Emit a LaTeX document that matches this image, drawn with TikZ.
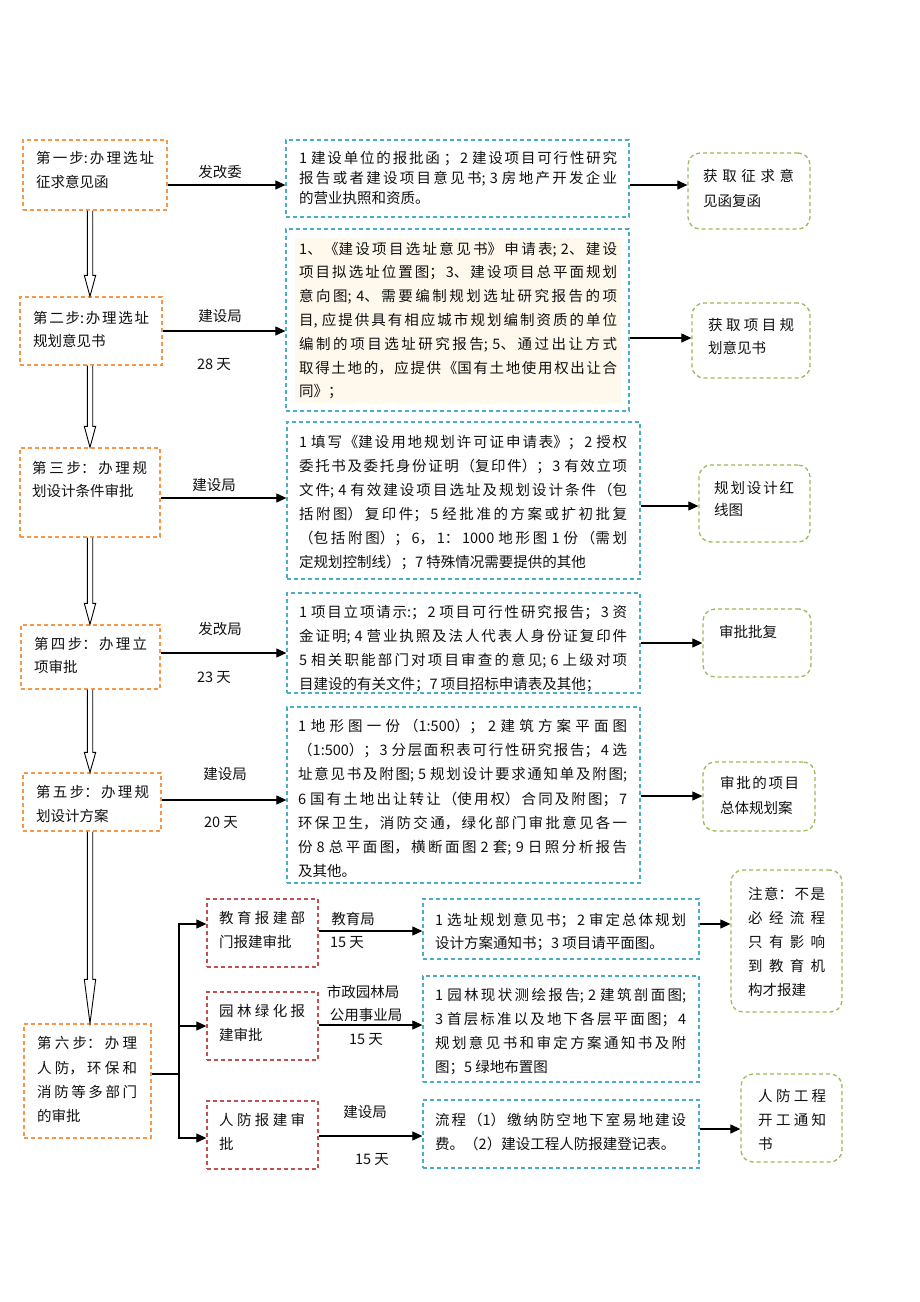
\documentclass[tikz,border=0pt]{standalone}
\usepackage{fontspec}
\setmainfont{Noto Sans CJK SC}
\usetikzlibrary{arrows.meta,calc}
\XeTeXlinebreaklocale "zh"
\XeTeXlinebreakskip=0pt plus 5pt
\setlength{\parindent}{0pt}
\definecolor{stepc}{HTML}{F79646}
\definecolor{docc}{HTML}{4BACC6}
\definecolor{deptc}{HTML}{C0504D}
\definecolor{resc}{HTML}{9BBB59}
\definecolor{peach}{RGB}{255,248,236}
\definecolor{ink}{HTML}{111111}
\newcommand\hollowarr[3]{\draw[harr] ($(#1)+(-2.7,0)$) -- ($(#2)+(-2.7,-#3)$) -- ($(#2)+(-5.7,-#3)$) -- (#2) -- ($(#2)+(5.7,-#3)$) -- ($(#2)+(2.7,-#3)$) -- ($(#1)+(2.7,0)$);}
\newcommand\sidearr[3]{\draw[arr] ([yshift=#3]#1.east) -- ([yshift=#3]#1.east -| #2.west);}
\begin{document}
\begin{tikzpicture}[x=1pt,y=-1pt,
  dashbox/.style={dash pattern=on 4pt off 3pt, line width=1.3pt, inner sep=0pt},
  stepbox/.style={dashbox, draw=stepc},
  docbox/.style={dashbox, draw=docc},
  deptbox/.style={dashbox, draw=deptc},
  resbox/.style={dashbox, draw=resc, rounded corners=12pt},
  txt/.style={anchor=north west, inner sep=0pt, align=justify, text=ink},
  lab/.style={inner sep=0pt, text=ink, font=\fontsize{14.5}{17}\selectfont},
  arr/.style={-{Triangle[length=10pt,width=9pt]}, line width=1.1pt},
  harr/.style={line width=0.9pt, fill=white},
  line/.style={line width=1.1pt}
]
\useasboundingbox[fill=white] (0,0) rectangle (920,1302);

% ---- step boxes
\node[stepbox, minimum width=144pt, minimum height=70pt] (S1) at (95,175) {};
\node[stepbox, minimum width=142pt, minimum height=68pt] (S2) at (91,331) {};
\node[stepbox, minimum width=140pt, minimum height=89pt] (S3) at (90,492.5) {};
\node[stepbox, minimum width=139pt, minimum height=64pt] (S4) at (90.5,657) {};
\node[stepbox, minimum width=138pt, minimum height=58pt] (S5) at (92,802) {};
\node[stepbox, minimum width=127pt, minimum height=114pt] (S6) at (87.5,1081) {};

% ---- document boxes
\node[docbox, minimum width=343pt, minimum height=77pt] (B1) at (457.5,178.5) {};
\node[docbox, minimum width=343pt, minimum height=182pt] (B2) at (457.5,320) {};
\node[docbox, minimum width=353pt, minimum height=157pt] (B3) at (463.5,500.5) {};
\node[docbox, minimum width=353pt, minimum height=100pt] (B4) at (463.5,643) {};
\node[docbox, minimum width=353pt, minimum height=176pt] (B5) at (463.5,795) {};
\node[docbox, minimum width=276pt, minimum height=60pt] (B6) at (561,929) {};
\node[docbox, minimum width=276pt, minimum height=106pt] (B7) at (561,1029) {};
\node[docbox, minimum width=276pt, minimum height=68pt] (B8) at (561,1134) {};

% ---- department boxes
\node[deptbox, minimum width=111pt, minimum height=68pt] (R1) at (262.5,933) {};
\node[deptbox, minimum width=111pt, minimum height=68pt] (R2) at (262.5,1026) {};
\node[deptbox, minimum width=111pt, minimum height=68pt] (R3) at (262.5,1135) {};

% ---- result boxes
\node[resbox, minimum width=122pt, minimum height=76pt] (G1) at (749,191) {};
\node[resbox, minimum width=118pt, minimum height=75pt] (G2) at (751,340.5) {};
\node[resbox, minimum width=111pt, minimum height=77pt] (G3) at (754.5,503.5) {};
\node[resbox, minimum width=108pt, minimum height=68pt] (G4) at (757,643) {};
\node[resbox, minimum width=112pt, minimum height=69pt] (G5) at (759,796.5) {};
\node[resbox, minimum width=111pt, minimum height=142pt] (G6) at (786.5,941) {};
\node[resbox, minimum width=101pt, minimum height=88pt] (G7) at (791.5,1118) {};

% ---- texts in step boxes
\node[txt, text width=118pt, font=\fontsize{14.5}{24}\selectfont] (tS1) at (36,151.5) {第一步:办理选址\linebreak 征求意见函};
\node[txt, text width=116pt, font=\fontsize{14.5}{23}\selectfont] (tS2) at (33,311.5) {第二步:办理选址\linebreak 规划意见书};
\node[txt, text width=115pt, font=\fontsize{14.5}{23}\selectfont] (tS3) at (32,461.5) {第三步：办理规\linebreak 划设计条件审批};
\node[txt, text width=113pt, font=\fontsize{14.5}{23}\selectfont] (tS4) at (34,637.5) {第四步：办理立\linebreak 项审批};
\node[txt, text width=113pt, font=\fontsize{14.5}{24}\selectfont] (tS5) at (36,785.5) {第五步：办理规\linebreak 划设计方案};
\node[txt, text width=100pt, font=\fontsize{14.5}{24.3}\selectfont] (tS6) at (37,1036.5) {第六步：办理\linebreak 人防，环保和\linebreak 消防等多部门\linebreak 的审批};

% ---- texts in document boxes
\node[txt, text width=318pt, font=\fontsize{14.5}{20}\selectfont] (tB1) at (299,151.5) {1 建设单位的报批函 ；2 建设项目可行性研究\linebreak 报告或者建设项目意见书; 3 房地产开发企业\linebreak 的营业执照和资质。};
\node[txt, text width=318pt, font=\fontsize{14.5}{23.8}\selectfont, fill=peach, inner sep=4pt] (tB2) at (295,237.5) {1、《建设项目选址意见书》申请表; 2、建设\linebreak 项目拟选址位置图；3、建设项目总平面规划\linebreak 意向图; 4、需要编制规划选址研究报告的项\linebreak 目, 应提供具有相应城市规划编制资质的单位\linebreak 编制的项目选址研究报告; 5、通过出让方式\linebreak 取得土地的，应提供《国有土地使用权出让合\linebreak 同》；};
\node[txt, text width=328pt, font=\fontsize{14.5}{24}\selectfont] (tB3) at (299,435.5) {1 填写《建设用地规划许可证申请表》；2 授权\linebreak 委托书及委托身份证明（复印件）；3 有效立项\linebreak 文件; 4 有效建设项目选址及规划设计条件（包\linebreak 括附图）复印件；5 经批准的方案或扩初批复\linebreak （包括附图）；6，1：1000 地形图 1 份（需划\linebreak 定规划控制线）；7 特殊情况需要提供的其他};
\node[txt, text width=328pt, font=\fontsize{14.5}{23.7}\selectfont] (tB4) at (299,605.5) {1 项目立项请示:；2 项目可行性研究报告；3 资\linebreak 金证明; 4 营业执照及法人代表人身份证复印件\linebreak 5 相关职能部门对项目审查的意见; 6 上级对项\linebreak 目建设的有关文件；7 项目招标申请表及其他；};
\node[txt, text width=329pt, font=\fontsize{14.5}{24.3}\selectfont] (tB5) at (298,718.5) {1 地形图一份（1:500）；2 建筑方案平面图\linebreak （1:500）；3 分层面积表可行性研究报告；4 选\linebreak 址意见书及附图; 5 规划设计要求通知单及附图;\linebreak 6 国有土地出让转让（使用权）合同及附图；7\linebreak 环保卫生，消防交通，绿化部门审批意见各一\linebreak 份 8 总平面图，横断面图 2 套; 9 日照分析报告\linebreak 及其他。};
\node[txt, text width=251pt, font=\fontsize{14.5}{23}\selectfont] (tB6) at (435,912.5) {1 选址规划意见书；2 审定总体规划\linebreak 设计方案通知书；3 项目请平面图。};
\node[txt, text width=251pt, font=\fontsize{14.5}{24}\selectfont] (tB7) at (435,988.5) {1 园林现状测绘报告; 2 建筑剖面图;\linebreak 3 首层标准以及地下各层平面图；4\linebreak 规划意见书和审定方案通知书及附\linebreak 图；5 绿地布置图};
\node[txt, text width=251pt, font=\fontsize{14.5}{24}\selectfont] (tB8) at (435,1112.5) {流程（1）缴纳防空地下室易地建设\linebreak 费。（2）建设工程人防报建登记表。};

% ---- texts in department boxes
\node[txt, text width=86pt, font=\fontsize{14.5}{24}\selectfont] (tR1) at (219,911.5) {教育报建部\linebreak 门报建审批};
\node[txt, text width=86pt, font=\fontsize{14.5}{24}\selectfont] (tR2) at (219,1004.5) {园林绿化报\linebreak 建审批};
\node[txt, text width=86pt, font=\fontsize{14.5}{24}\selectfont] (tR3) at (219,1113.5) {人防报建审\linebreak 批};

% ---- texts in result boxes
\node[txt, text width=91pt, font=\fontsize{14.5}{25}\selectfont] (tG1) at (703,168.5) {获取征求意\linebreak 见函复函};
\node[txt, text width=86pt, font=\fontsize{14.5}{23}\selectfont] (tG2) at (708,318.5) {获取项目规\linebreak 划意见书};
\node[txt, text width=80pt, font=\fontsize{14.5}{22}\selectfont] (tG3) at (714,481.5) {规划设计红\linebreak 线图};
\node[txt, text width=80pt, font=\fontsize{14.5}{24}\selectfont] (tG4) at (719,625.5) {审批批复};
\node[txt, text width=79pt, font=\fontsize{14.5}{25}\selectfont] (tG5) at (720,776.5) {审批的项目\linebreak 总体规划案};
\node[txt, text width=77pt, font=\fontsize{14.5}{24}\selectfont] (tG6) at (748,886.5) {注意：不是\linebreak 必经流程\linebreak 只有影响\linebreak 到教育机\linebreak 构才报建};
\node[txt, text width=68pt, font=\fontsize{14.5}{24}\selectfont] (tG7) at (758,1089.5) {人防工程\linebreak 开工通知\linebreak 书};

% ---- hollow flow arrows between steps
\coordinate (ax) at (90,0);
\coordinate (a1t) at (S1.south -| ax); \coordinate (a1b) at (S2.north -| ax);
\coordinate (a2t) at (S2.south -| ax); \coordinate (a2b) at (S3.north -| ax);
\coordinate (a3t) at (S3.south -| ax); \coordinate (a3b) at (S4.north -| ax);
\coordinate (a4t) at (S4.south -| ax); \coordinate (a4b) at (S5.north -| ax);
\coordinate (a5t) at (S5.south -| ax); \coordinate (a5b) at (S6.north -| ax);
\hollowarr{a1t}{a1b}{21}
\hollowarr{a2t}{a2b}{21}
\hollowarr{a3t}{a3b}{21}
\hollowarr{a4t}{a4b}{20}
\hollowarr{a5t}{a5b}{44}

% ---- side arrows
\sidearr{S1}{B1}{-10pt}
\sidearr{B1}{G1}{-6.5pt}
\sidearr{S2}{B2}{0pt}
\sidearr{B2}{G2}{-18pt}
\sidearr{S3}{B3}{-5.5pt}
\sidearr{B3}{G3}{-5.5pt}
\sidearr{S4}{B4}{4pt}
\sidearr{B4}{G4}{0pt}
\sidearr{S5}{B5}{2pt}
\sidearr{B5}{G5}{-1pt}
\sidearr{R1}{B6}{2pt}
\sidearr{R2}{B7}{1pt}
\sidearr{R3}{B8}{-1pt}
\sidearr{B6}{G6}{5pt}
\sidearr{B8}{G7}{5pt}

% ---- branching from step 6
\coordinate (tr) at (179,1074);
\draw[line] ([yshift=7pt]S6.east) -- (tr);
\draw[arr] (tr) |- ([yshift=9pt]R1.west);
\draw[arr] (tr) |- (R2.west);
\draw[arr] (tr) |- ([yshift=-3pt]R3.west);

% ---- arrow labels
\node[lab] (L1) at (220,172) {发改委};
\node[lab] (L2) at (220,316) {建设局};
\node[lab] (L2d) at (214,365) {28 天};
\node[lab] (L3) at (214,485) {建设局};
\node[lab] (L4) at (220,629) {发改局};
\node[lab] (L4d) at (214,678) {23 天};
\node[lab] (L5) at (225,774) {建设局};
\node[lab] (L5d) at (221,823) {20 天};
\node[lab] (L6) at (353,919) {教育局};
\node[lab] (L6d) at (347,943) {15 天};
\node[lab] (L7a) at (363,992) {市政园林局};
\node[lab] (L7b) at (366,1015) {公用事业局};
\node[lab] (L7d) at (366,1040) {15 天};
\node[lab] (L8) at (365,1112) {建设局};
\node[lab] (L8d) at (372,1160) {15 天};
\end{tikzpicture}
\end{document}
